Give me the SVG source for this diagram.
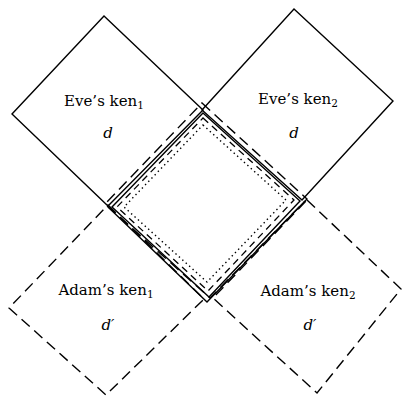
<svg xmlns="http://www.w3.org/2000/svg" width="403" height="397" viewBox="0 0 403 397">
<style>
.solid{fill:none;stroke:#000;stroke-width:1.4;stroke-linejoin:miter}
.dash{fill:none;stroke:#000;stroke-width:1.4;stroke-dasharray:11 6}
.mdash{fill:none;stroke:#000;stroke-width:1.3;stroke-dasharray:7 5}
.dot{fill:none;stroke:#000;stroke-width:1.4;stroke-dasharray:1.4 3.2}
text{font-family:'DejaVu Serif',serif;font-size:15px;fill:#000;text-anchor:middle}
.var{font-style:italic}
.sub{font-size:10.5px}
</style>
<rect width="403" height="397" fill="#fff"/>
<g id="eve1">
<polygon class="solid" points="104,16 203,110 108,206 12,114"/>
<text x="104" y="106">Eve’s ken<tspan class="sub" dy="3">1</tspan></text>
<text class="var" x="108" y="138">d</text>
</g>
<g id="eve2">
<polygon class="solid" points="294,9 393,101 302,200 202,110"/>
<text x="298" y="104">Eve’s ken<tspan class="sub" dy="3">2</tspan></text>
<text class="var" x="294" y="138">d</text>
</g>
<g id="adam1">
<polygon class="dash" points="108,205 204,299 106,395 9,308"/>
<text x="106" y="295">Adam’s ken<tspan class="sub" dy="3">1</tspan></text>
<text class="var" x="108" y="330">d′</text>
</g>
<g id="adam2">
<polygon class="dash" points="307,200 401,289 317,393 213,298"/>
<text x="308" y="296">Adam’s ken<tspan class="sub" dy="3">2</tspan></text>
<text class="var" x="310" y="330">d′</text>
</g>
<g id="common">
<polygon class="dash" points="202,103 307,199 210,298 105,204"/>
<polyline class="solid" points="108,207 207,302 305,201"/>
<polygon class="solid" points="203,113 300,201 209,297 112,207"/>
<polygon class="mdash" points="203,118 294,200 208,291 117,207"/>
<polygon class="dot" points="203,125 286,200 207,282 124,207"/>
</g>
</svg>
